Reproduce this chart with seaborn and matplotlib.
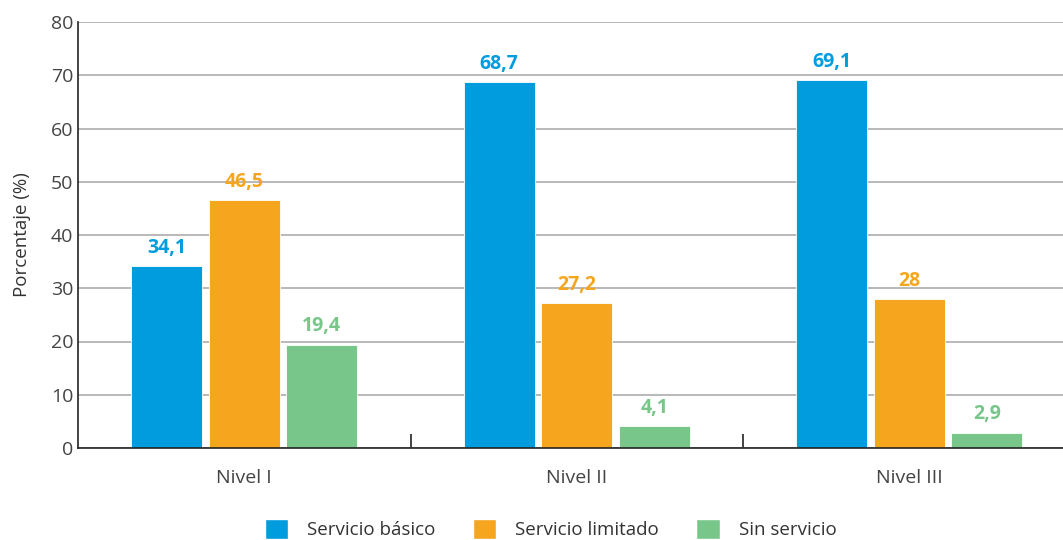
import matplotlib
matplotlib.use("Agg")
import matplotlib.pyplot as plt
from matplotlib.patches import Patch
import seaborn as sns
import pandas as pd

niveles = ["Nivel I", "Nivel II", "Nivel III"]
series = ["Servicio básico", "Servicio limitado", "Sin servicio"]
basico = [34.1, 68.7, 69.1]
limitado = [46.5, 27.2, 28.0]
sin_servicio = [19.4, 4.1, 2.9]
colores = ["#009CDE", "#F6A51E", "#78C689"]

df = pd.DataFrame({
    "nivel": niveles * 3,
    "serie": [s for s in series for _ in niveles],
    "valor": basico + limitado + sin_servicio,
})

sns.set_theme(style="white")
plt.rcParams["font.family"] = ["Open Sans", "DejaVu Sans"]

fig = plt.figure(figsize=(10.63, 5.4), dpi=100)
ax = fig.add_axes([78 / 1063, 1 - 448 / 540, 1 - 78 / 1063, (448 - 22) / 540])

sns.barplot(data=df, x="nivel", y="valor", hue="serie", order=niveles,
            hue_order=series, palette=colores, saturation=1, width=0.7,
            gap=0.085, edgecolor="white", linewidth=0.6, legend=False,
            ax=ax, zorder=3)

def fmt(v):
    s = f"{v:.1f}".replace(".", ",")
    return s[:-2] if s.endswith(",0") else s

for cont, col in zip(ax.containers, colores):
    ax.bar_label(cont, labels=[fmt(b.get_height()) for b in cont],
                 padding=6, color=col, fontsize=14, fontweight="bold")

ax.set_ylim(0, 80)
ax.set_yticks(range(0, 81, 10))
ax.set_xlim(-0.5, 2.462)
ax.yaxis.grid(True, color="#A6A6A6", linewidth=1.1, zorder=0)
ax.set_axisbelow(True)
for side in ["top", "right"]:
    ax.spines[side].set_visible(False)
for side in ["left", "bottom"]:
    ax.spines[side].set_color("#222222")
    ax.spines[side].set_linewidth(1.2)
    ax.spines[side].set_zorder(4)

ax.tick_params(axis="both", which="major", length=0, labelsize=14,
               labelcolor="#444444")
ax.tick_params(axis="x", pad=15)
ax.set_xticks([0.5, 1.5], minor=True)
ax.tick_params(axis="x", which="minor", bottom=True, direction="in",
               length=10, width=1.2, color="#222222")

ax.set_xlabel("")
ax.set_ylabel("Porcentaje (%)", fontsize=13.5, color="#333333", labelpad=14)

handles = [Patch(facecolor=c, edgecolor="white") for c in colores]
fig.legend(handles, series, loc="lower center", bbox_to_anchor=(0.518, -0.03),
           ncol=3, frameon=False, fontsize=13.5, handlelength=1.25,
           handleheight=1.25, handletextpad=1.0, columnspacing=2.0,
           labelcolor="#333333")

fig.savefig("out.png", dpi=100)
